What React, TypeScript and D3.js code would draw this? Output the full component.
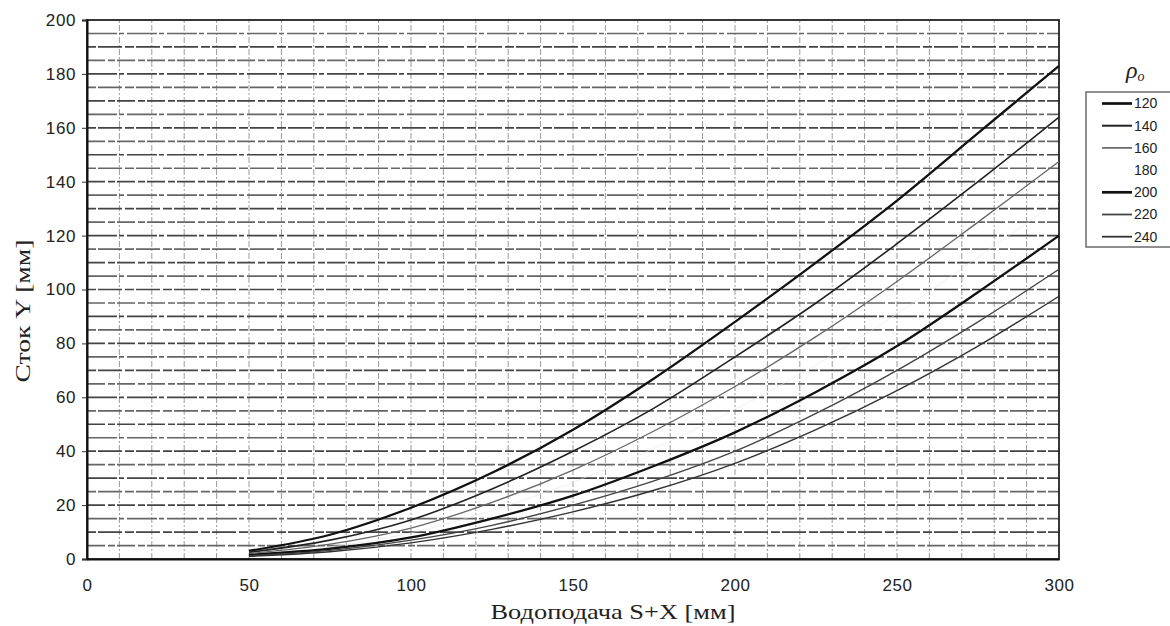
import React, { useEffect, useRef } from "react";
import * as d3 from "d3";

// values
const feed = [50, 75, 100, 125, 150, 175, 200, 225, 250, 275, 300];
const runoff120 = [3, 9, 19, 32, 48, 67, 88, 110, 133, 158, 183];
const runoff140 = [2.5, 7, 14.5, 26, 40, 56, 75, 95, 117, 140, 164];
const runoff160 = [2, 5.5, 11.5, 21, 33, 47.5, 64, 82.5, 103, 125, 147.5];
const runoff180 = [1.8, 4.5, 9.7, 18, 28.5, 41, 55.5, 72, 91, 112, 133];
const runoff200 = [1.5, 3.8, 8, 15, 23.5, 34.5, 47, 62, 79, 99, 120];
const runoff220 = [1.2, 3.2, 7, 12.5, 20, 29, 40, 54, 70, 88, 107.5];
const runoff240 = [1, 2.7, 6, 11, 17.5, 25.5, 35.5, 48, 62.5, 79, 97.5];
const rhoLabels = ["120", "140", "160", "180", "200", "220", "240"];
const xTicks = [0, 50, 100, 150, 200, 250, 300];
const yTicks = [0, 20, 40, 60, 80, 100, 120, 140, 160, 180, 200];

const allRunoff = [runoff120, runoff140, runoff160, runoff180, runoff200, runoff220, runoff240];

// line look per series (180 is practically invisible on the scan)
const lineStyle = [
  { color: "#111", width: 2.3 },
  { color: "#222", width: 1.6 },
  { color: "#666", width: 1.3 },
  { color: "#e4e4e4", width: 0.6 },
  { color: "#111", width: 2.3 },
  { color: "#444", width: 1.4 },
  { color: "#333", width: 1.4 },
];

const W = 1170;
const H = 626;

export default function App() {
  const ref = useRef<SVGSVGElement | null>(null);

  useEffect(() => {
    const svg = d3.select(ref.current);
    svg.selectAll("*").remove();

    const x = d3.scaleLinear().domain([0, 300]).range([87, 1059]);
    const y = d3.scaleLinear().domain([0, 200]).range([559, 20]);

    const grid = svg.append("g");
    // vertical grid every 10
    grid
      .selectAll(".vg")
      .data(d3.range(10, 300, 10))
      .join("line")
      .attr("x1", (d) => x(d))
      .attr("x2", (d) => x(d))
      .attr("y1", y(0))
      .attr("y2", y(200))
      .attr("stroke", "#9a9a9a")
      .attr("stroke-width", 1)
      .attr("stroke-dasharray", "6 2 2 2");
    // horizontal grid every 5
    grid
      .selectAll(".hg")
      .data(d3.range(5, 200, 5))
      .join("line")
      .attr("x1", x(0))
      .attr("x2", x(300))
      .attr("y1", (d) => y(d))
      .attr("y2", (d) => y(d))
      .attr("stroke", (d, i) => (i % 2 ? "#444" : "#666"))
      .attr("stroke-width", 1.7)
      .attr("stroke-dasharray", (d, i) => (i % 3 === 0 ? "18 3 7 2" : i % 3 === 1 ? "9 2 24 3" : "30 2 5 3"));

    // frame
    svg
      .append("rect")
      .attr("x", x(0))
      .attr("y", y(200))
      .attr("width", x(300) - x(0))
      .attr("height", y(0) - y(200))
      .attr("fill", "none")
      .attr("stroke", "#222")
      .attr("stroke-width", 1.8);

    // y axis
    const yAxis = svg
      .append("g")
      .attr("transform", `translate(${x(0)},0)`)
      .call(d3.axisLeft(y).tickValues(yTicks).tickSize(5).tickPadding(6));
    yAxis.select(".domain").attr("stroke", "#111").attr("stroke-width", 2);
    yAxis.selectAll(".tick line").attr("stroke", "#333");
    yAxis
      .selectAll("text")
      .attr("fill", "#222")
      .style("font-family", "'Liberation Sans', Arial, sans-serif")
      .style("font-size", "17px")
      .style("letter-spacing", "0.6px");

    // x axis
    const xAxis = svg
      .append("g")
      .attr("transform", `translate(0,${y(0)})`)
      .call(d3.axisBottom(x).tickValues(xTicks).tickSize(0).tickPadding(20));
    xAxis.select(".domain").attr("stroke", "#111").attr("stroke-width", 2);
    xAxis
      .selectAll("text")
      .attr("fill", "#222")
      .style("font-family", "'Liberation Sans', Arial, sans-serif")
      .style("font-size", "17px")
      .style("letter-spacing", "0.6px");

    // curves
    const line = d3
      .line<number>()
      .x((d, i) => x(feed[i]))
      .y((d) => y(d))
      .curve(d3.curveCatmullRom.alpha(0.5));

    svg
      .append("g")
      .selectAll("path")
      .data(allRunoff)
      .join("path")
      .attr("d", (d) => line(d))
      .attr("fill", "none")
      .attr("stroke", (d, i) => lineStyle[i].color)
      .attr("stroke-width", (d, i) => lineStyle[i].width);

    // axis titles
    svg
      .append("text")
      .attr("x", 613)
      .attr("y", 619)
      .attr("text-anchor", "middle")
      .attr("fill", "#222")
      .attr("textLength", 245)
      .attr("lengthAdjust", "spacingAndGlyphs")
      .style("font-family", "'Liberation Serif', 'Times New Roman', serif")
      .style("font-size", "21px")
      .text("Водоподача S+X [мм]");

    svg
      .append("text")
      .attr("transform", `translate(30,311) rotate(-90)`)
      .attr("text-anchor", "middle")
      .attr("fill", "#222")
      .attr("textLength", 143)
      .attr("lengthAdjust", "spacingAndGlyphs")
      .style("font-family", "'Liberation Serif', 'Times New Roman', serif")
      .style("font-size", "21px")
      .text("Сток Y [мм]");

    // legend
    const lg = svg.append("g");
    lg.append("rect")
      .attr("x", 1086)
      .attr("y", 92)
      .attr("width", 100)
      .attr("height", 155)
      .attr("fill", "#fff")
      .attr("stroke", "#555")
      .attr("stroke-width", 1.3);

    const title = lg
      .append("text")
      .attr("x", 1126)
      .attr("y", 78)
      .attr("fill", "#222")
      .style("font-family", "'Liberation Serif', 'Times New Roman', serif")
      .style("font-style", "italic")
      .style("font-size", "24px");
    title.append("tspan").text("ρ");
    title.append("tspan").attr("dy", 3).style("font-size", "14px").text("o");

    const rows = lg
      .selectAll(".row")
      .data(rhoLabels)
      .join("g")
      .attr("transform", (d, i) => `translate(0,${103.5 + i * 22.2})`);
    rows
      .append("line")
      .attr("x1", 1102)
      .attr("x2", 1132)
      .attr("stroke", (d, i) => (i === 3 ? "#ccc" : lineStyle[i].color))
      .attr("stroke-width", (d, i) => (i === 3 ? 0 : lineStyle[i].width + 0.4));
    rows
      .append("text")
      .attr("x", 1134)
      .attr("dy", "0.35em")
      .attr("fill", "#222")
      .style("font-family", "'Liberation Sans', Arial, sans-serif")
      .style("font-size", "14px")
      .text((d) => d);
  }, []);

  return (
    <svg
      ref={ref}
      width={W}
      height={H}
      style={{ position: "fixed", left: 0, top: 0, background: "#fff" }}
    />
  );
}
